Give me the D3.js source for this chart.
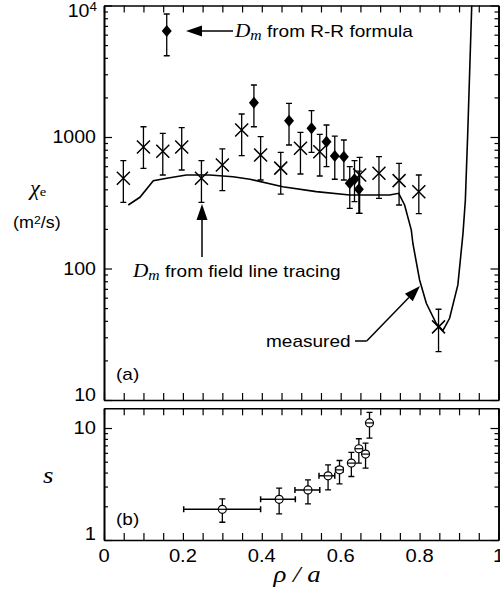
<!DOCTYPE html>
<html>
<head>
<meta charset="utf-8">
<script src="https://cdn.jsdelivr.net/npm/d3@7"></script>
<style>body{margin:0;background:#fff}</style>
</head>
<body>
<div id="chart"></div>
<script>
// (a) measured chi_e, crosses with error bars
const crossRho = [0.049, 0.10, 0.149, 0.197, 0.247, 0.30, 0.349, 0.397, 0.448, 0.498, 0.547, 0.648, 0.697, 0.748, 0.798, 0.848];
const crossChi = [485, 840, 780, 840, 485, 612, 1130, 730, 580, 820, 773, 514, 530, 466, 384, 36];
const crossHi  = [661, 1197, 1067, 1177, 661, 811, 1496, 1005, 765, 1085, 1048, 701, 708, 631, 514, 49];
const crossLo  = [318, 578, 514, 561, 318, 391, 721, 471, 368, 523, 505, 263, 342, 304, 261, 23.3];

// (a) D_m from R-R formula, diamonds
const diaRho = [0.159, 0.38, 0.469, 0.526, 0.564, 0.585, 0.608, 0.623, 0.635, 0.646];
const diaD   = [6400, 1824, 1330, 1164, 921, 717, 708, 445, 477, 400];
const diaHi  = [8620, 2485, 1803, 1585, 1234, 1017, 949, 596, 661, 550];
const diaLo  = [4150, 1197, 869, 765, 595, 477, 471, 287, 322, 263];

// (a) D_m from field line tracing, solid line
const lineRho = [0.0615, 0.091, 0.125, 0.159, 0.209, 0.268, 0.327, 0.37, 0.453, 0.538, 0.623, 0.724, 0.747, 0.762, 0.779, 0.783, 0.80, 0.817, 0.842, 0.859, 0.876, 0.897, 0.910, 0.916, 0.922, 0.933];
const lineD   = [304, 348, 465, 485, 514, 514, 499, 477, 419, 384, 362, 362, 373, 304, 196, 155, 81.8, 54.4, 38.3, 33.7, 41.8, 75, 185, 332, 1067, 12000];

// (b) s, circles with x and y error bars
const sRho   = [0.30, 0.444, 0.517, 0.568, 0.597, 0.627, 0.646, 0.663, 0.673];
const sVal   = [1.88, 2.31, 2.8, 3.74, 4.23, 4.86, 6.53, 5.85, 11.1];
const sHi    = [2.33, 2.9, 3.44, 4.69, 5.13, 6.05, 8.02, 7.34, 13.8];
const sLo    = [1.44, 1.71, 2.1, 2.8, 3.17, 3.69, 4.86, 4.38, 8.13];
const sRhoLo = [0.202, 0.397, 0.484, 0.545, 0.587, 0.622, 0.641, 0.658, 0.668];
const sRhoHi = [0.397, 0.485, 0.547, 0.585, 0.606, 0.632, 0.651, 0.668, 0.678];

const xTicks = [0, 0.2, 0.4, 0.6, 0.8, 1];
const yTicksA = [10, 100, 1000];
const yTicksB = [1, 10];

const W = 500, H = 594;
const SX = 1.12; // the picture is a bit wider than tall
const sans = 'Liberation Sans, Arial, sans-serif';
const serif = 'Liberation Serif, Times New Roman, serif';

const svg = d3.select('#chart').append('svg')
    .attr('width', W)
    .attr('height', H)
    .style('background', '#fff');

const x = d3.scaleLinear().domain([0, 1]).range([104, 498.5]);
const yA = d3.scaleLog().domain([10, 1e4]).range([400, 5.5]);
const yB = d3.scaleLog().domain([1, 15]).range([540, 408.3]);

function minors(lo, hi) {
    const out = [];
    for (let d = lo; d < hi; d *= 10)
        for (let k = 2; k <= 9; k++) if (k * d < hi) out.push(k * d);
    return out;
}

// box with inward ticks on all four sides
function frame(y, major, minor) {
    const [yb, yt] = y.range();
    const g = svg.append('g');
    const xt = d3.range(0, 1.0001, 0.05);
    g.append('g').attr('transform', `translate(0,${yb})`)
        .call(d3.axisBottom(x).tickValues(xt).tickSize(-7).tickSizeOuter(0).tickFormat(''));
    g.append('g').attr('transform', `translate(0,${yt})`)
        .call(d3.axisTop(x).tickValues(xt).tickSize(-7).tickSizeOuter(0).tickFormat(''));
    [[d3.axisLeft, x(0)], [d3.axisRight, x(1)]].forEach(([ax, px]) => {
        g.append('g').attr('transform', `translate(${px},0)`)
            .call(ax(y).tickValues(major).tickSize(-8).tickSizeOuter(0).tickFormat(''));
        g.append('g').attr('transform', `translate(${px},0)`)
            .call(ax(y).tickValues(minor).tickSize(-4).tickSizeOuter(0).tickFormat(''));
    });
    g.selectAll('path.domain').attr('stroke-width', 1.6);
    g.selectAll('.tick line').attr('stroke-width', 1.2);
}

frame(yA, [10, 100, 1000, 10000], minors(10, 10000));
frame(yB, [1, 10], minors(1, 15));

function txt(px, py, str, size, anchor, family, style) {
    return svg.append('text')
        .attr('transform', `translate(${px},${py}) scale(${SX},1)`)
        .attr('text-anchor', anchor || 'start')
        .attr('font-family', family || sans)
        .attr('font-style', style || 'normal')
        .attr('font-size', size)
        .text(str);
}

// tick labels
yTicksA.forEach(v => txt(96, yA(v) + 6 - (v === 10 ? 5 : 0), d3.format('d')(v), 17.5, 'end'));
const t4 = txt(97, 17, '10', 17.5, 'end');
t4.append('tspan').attr('font-size', 12).attr('dy', -6).text('4');
yTicksB.forEach(v => txt(96, yB(v) + 6 - (v === 1 ? 6 : 0), d3.format('d')(v), 18, 'end'));
xTicks.forEach(v => txt(x(v), 562, v === 0 || v === 1 ? String(v) : v.toFixed(1), 18, 'middle'));

// axis titles
const chi = txt(30, 195, 'χ', 20, 'start', serif, 'italic');
chi.append('tspan').attr('font-style', 'normal').attr('font-size', 13).attr('dy', 1).text('e');
const unit = txt(13, 228, '(m', 16, 'start');
unit.append('tspan').attr('font-size', 11).attr('dy', -4).text('2');
unit.append('tspan').attr('dy', 4).text('/s)');
txt(43, 483, 's', 24, 'start', serif, 'italic');
txt(297, 582, 'ρ / a', 24, 'middle', serif, 'italic');
txt(116, 380, '(a)', 17, 'start');
txt(116, 525, '(b)', 17, 'start');

// plot (a)
const clip = svg.append('clipPath').attr('id', 'clipA').append('rect')
    .attr('x', x(0)).attr('y', yA(1e4))
    .attr('width', x(1) - x(0)).attr('height', yA(10) - yA(1e4));

svg.append('path')
    .datum(lineRho.map((r, i) => [r, lineD[i]]))
    .attr('clip-path', 'url(#clipA)')
    .attr('fill', 'none')
    .attr('stroke', '#000')
    .attr('stroke-width', 1.6)
    .attr('d', d3.line().x(d => x(d[0])).y(d => yA(d[1])));

function vbar(g, px, p1, p2, cap) {
    g.append('path')
        .attr('d', `M${px},${p1}V${p2}M${px - cap},${p1}H${px + cap}M${px - cap},${p2}H${px + cap}`)
        .attr('fill', 'none').attr('stroke', '#000').attr('stroke-width', 1.3);
}
function hbar(g, py, p1, p2, cap) {
    g.append('path')
        .attr('d', `M${p1},${py}H${p2}M${p1},${py - cap}V${py + cap}M${p2},${py - cap}V${py + cap}`)
        .attr('fill', 'none').attr('stroke', '#000').attr('stroke-width', 1.5);
}

const gA = svg.append('g');
crossRho.forEach((r, i) => vbar(gA, x(r), yA(crossHi[i]), yA(crossLo[i]), 3));
gA.selectAll('path.cross').data(crossRho).enter().append('path')
    .attr('class', 'cross')
    .attr('transform', (d, i) => `translate(${x(d)},${yA(crossChi[i])})`)
    .attr('d', 'M-6.5,-6.5L6.5,6.5M-6.5,6.5L6.5,-6.5')
    .attr('stroke', '#000').attr('stroke-width', 1.5);

diaRho.forEach((r, i) => vbar(gA, x(r), yA(diaHi[i]), yA(diaLo[i]), 3));
gA.selectAll('path.dia').data(diaRho).enter().append('path')
    .attr('class', 'dia')
    .attr('transform', (d, i) => `translate(${x(d)},${yA(diaD[i])})`)
    .attr('d', 'M0,-6L5,0L0,6L-5,0Z')
    .attr('fill', '#000');

// plot (b)
const gB = svg.append('g');
sRho.forEach((r, i) => {
    vbar(gB, x(r), yB(sHi[i]), yB(sLo[i]), 3);
    hbar(gB, yB(sVal[i]), x(sRhoLo[i]), x(sRhoHi[i]), 3);
});
gB.selectAll('circle').data(sRho).enter().append('circle')
    .attr('cx', d => x(d))
    .attr('cy', (d, i) => yB(sVal[i]))
    .attr('r', 4)
    .attr('fill', '#fff').attr('stroke', '#000').attr('stroke-width', 1.2);
gB.selectAll('path.mid').data(sRho).enter().append('path')
    .attr('class', 'mid')
    .attr('d', (d, i) => `M${x(d) - 4},${yB(sVal[i])}H${x(d) + 4}`)
    .attr('stroke', '#000').attr('stroke-width', 1.2);

// annotations
function arrow(x1, y1, x2, y2) {
    const a = Math.atan2(y2 - y1, x2 - x1), L = 16, w = 5.5;
    const bx = x2 - L * Math.cos(a), by = y2 - L * Math.sin(a);
    const nx = -Math.sin(a) * w, ny = Math.cos(a) * w;
    svg.append('path').attr('d', `M${x1},${y1}L${bx},${by}`)
        .attr('stroke', '#000').attr('stroke-width', 1.5).attr('fill', 'none');
    svg.append('path').attr('d', `M${x2},${y2}L${bx + nx},${by + ny}L${bx - nx},${by - ny}Z`)
        .attr('fill', '#000');
}

arrow(233, 31, 186, 31);
const rr = txt(235, 37, 'D', 19, 'start', serif, 'italic');
rr.append('tspan').attr('font-size', 14).attr('dy', 3).text('m');
rr.append('tspan').attr('font-family', sans).attr('font-style', 'normal').attr('font-size', 17).attr('dy', -3).text(' from R-R formula');

arrow(202, 257, 202, 204);
const fl = txt(133, 277, 'D', 19, 'start', serif, 'italic');
fl.append('tspan').attr('font-size', 14).attr('dy', 3).text('m');
fl.append('tspan').attr('font-family', sans).attr('font-style', 'normal').attr('font-size', 17).attr('dy', -3).text(' from field line tracing');

svg.append('path').attr('d', 'M355,341H366.7')
    .attr('stroke', '#000').attr('stroke-width', 1.5);
arrow(366.7, 341, 420, 286);
txt(266, 347, 'measured', 17, 'start');
</script>
</body>
</html>
